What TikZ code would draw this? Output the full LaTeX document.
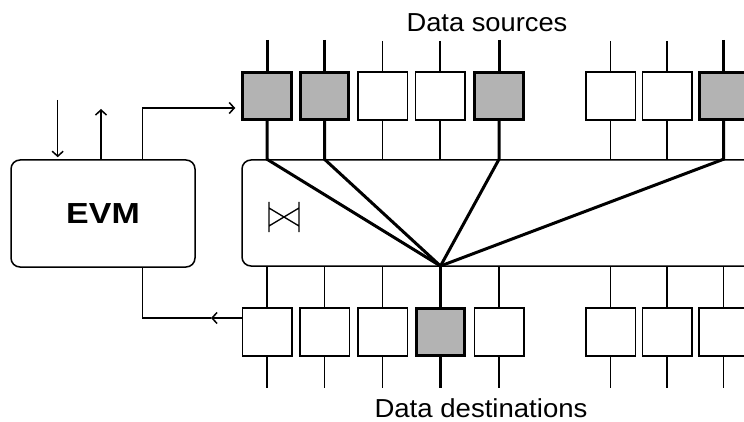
\documentclass[tikz,border=0pt]{standalone}
\usepackage{fontspec}
\usepackage{graphicx}
\setmainfont{Liberation Sans}
\usetikzlibrary{arrows.meta}
\definecolor{selgray}{RGB}{179,179,179}
\tikzset{
  wire/.style={line width=1.5pt},
  heavy/.style={line width=3pt},
  port/.style={draw, line width=1.5pt, fill=white, minimum width=49.5pt,
    minimum height=48pt, inner sep=0pt},
  activeport/.style={port, line width=3pt, fill=selgray, minimum width=48.5pt,
    minimum height=46.5pt},
  tip/.style={-{Straight Barb[length=5pt,width=11pt]}},
  caption/.style={font=\fontsize{26}{30}\selectfont, inner sep=0pt, anchor=base},
  panel/.style={draw, line width=1.5pt, rounded corners=9pt, fill=white, inner sep=0pt}
}
\begin{document}
\begin{tikzpicture}[x=1pt,y=-1pt]
  \useasboundingbox (0,0) rectangle (744,422);

  % controller and crossbar switch
  \node[panel, minimum width=184pt, minimum height=107pt] (evm) at (103,213.5)
    {\fontsize{29}{32}\selectfont\bfseries\scalebox{1.17}[1]{EVM}};
  \node[panel, minimum width=558pt, minimum height=106pt] (sw) at (521,213) {};

  % switch symbol
  \draw[wire, line width=1.3pt] (269,202) -- (269,232) (299,202) -- (299,232)
    (269,208) -- (299,226) (269,226) -- (299,208);

  % port positions
  \foreach \n/\x in {1/267,2/324.5,3/382.5,4/440,5/499,6/610.5,7/667,8/723.5} {
    \coordinate (sx\n) at (\x,96);
  }
  \foreach \n/\x in {1/267,2/324.5,3/382.5,4/440.5,5/499,6/610.5,7/667,8/723.5} {
    \coordinate (dx\n) at (\x,332);
  }
  \coordinate (hub) at (440.5,266);

  % source stubs
  \foreach \n in {3,4,6,7} {
    \draw[wire] (sx\n |- 0,41) -- (sx\n);
    \draw[wire] (sx\n) -- (sx\n |- sw.north);
  }
  \foreach \n in {1,2,5,8} {
    \draw[heavy] (sx\n |- 0,40) -- (sx\n);
    \draw[heavy, line join=miter] (sx\n) -- (sx\n |- sw.north) -- (hub);
  }

  % destination stubs
  \foreach \n in {1,2,3,5,6,7,8} {
    \draw[wire] (dx\n |- sw.south) -- (dx\n) -- (dx\n |- 0,388);
  }
  \draw[heavy] (hub) -- (dx4) -- (dx4 |- 0,388);

  % source ports
  \node[activeport] (s1) at (sx1) {};
  \node[activeport] (s2) at (sx2) {};
  \node[port] (s3) at (sx3) {};
  \node[port] (s4) at (sx4) {};
  \node[activeport] (s5) at (sx5) {};
  \node[port] (s6) at (sx6) {};
  \node[port] (s7) at (sx7) {};
  \node[activeport] (s8) at (sx8) {};

  % destination ports
  \node[port] (d1) at (dx1) {};
  \node[port] (d2) at (dx2) {};
  \node[port] (d3) at (dx3) {};
  \node[activeport] (d4) at (dx4) {};
  \node[port] (d5) at (dx5) {};
  \node[port] (d6) at (dx6) {};
  \node[port] (d7) at (dx7) {};
  \node[port] (d8) at (dx8) {};

  % controller links
  \coordinate (inA) at (57.7,100);
  \coordinate (outA) at (101,109);
  \coordinate (cfg) at (142.7,108);
  \coordinate (ret) at (211,318);
  \coordinate (retc) at (142.7,318);
  \draw[wire, tip, shorten >=2pt] (inA) -- (inA |- evm.north);
  \draw[wire, tip] (outA |- evm.north) -- (outA);
  \draw[wire, tip, shorten >=6pt] (cfg |- evm.north) -- (cfg) -- (cfg -| s1.west);
  \draw[wire, tip] (d1.west |- ret) -- (ret);
  \draw[wire] (ret) -- (retc) -- (retc |- evm.south);

  % captions
  \node[caption] (src) at (487,32) {\scalebox{1.05}[1]{Data sources}};
  \node[caption] (dst) at (481,417.5) {\scalebox{1.06}[1]{Data destinations}};
\end{tikzpicture}
\end{document}
